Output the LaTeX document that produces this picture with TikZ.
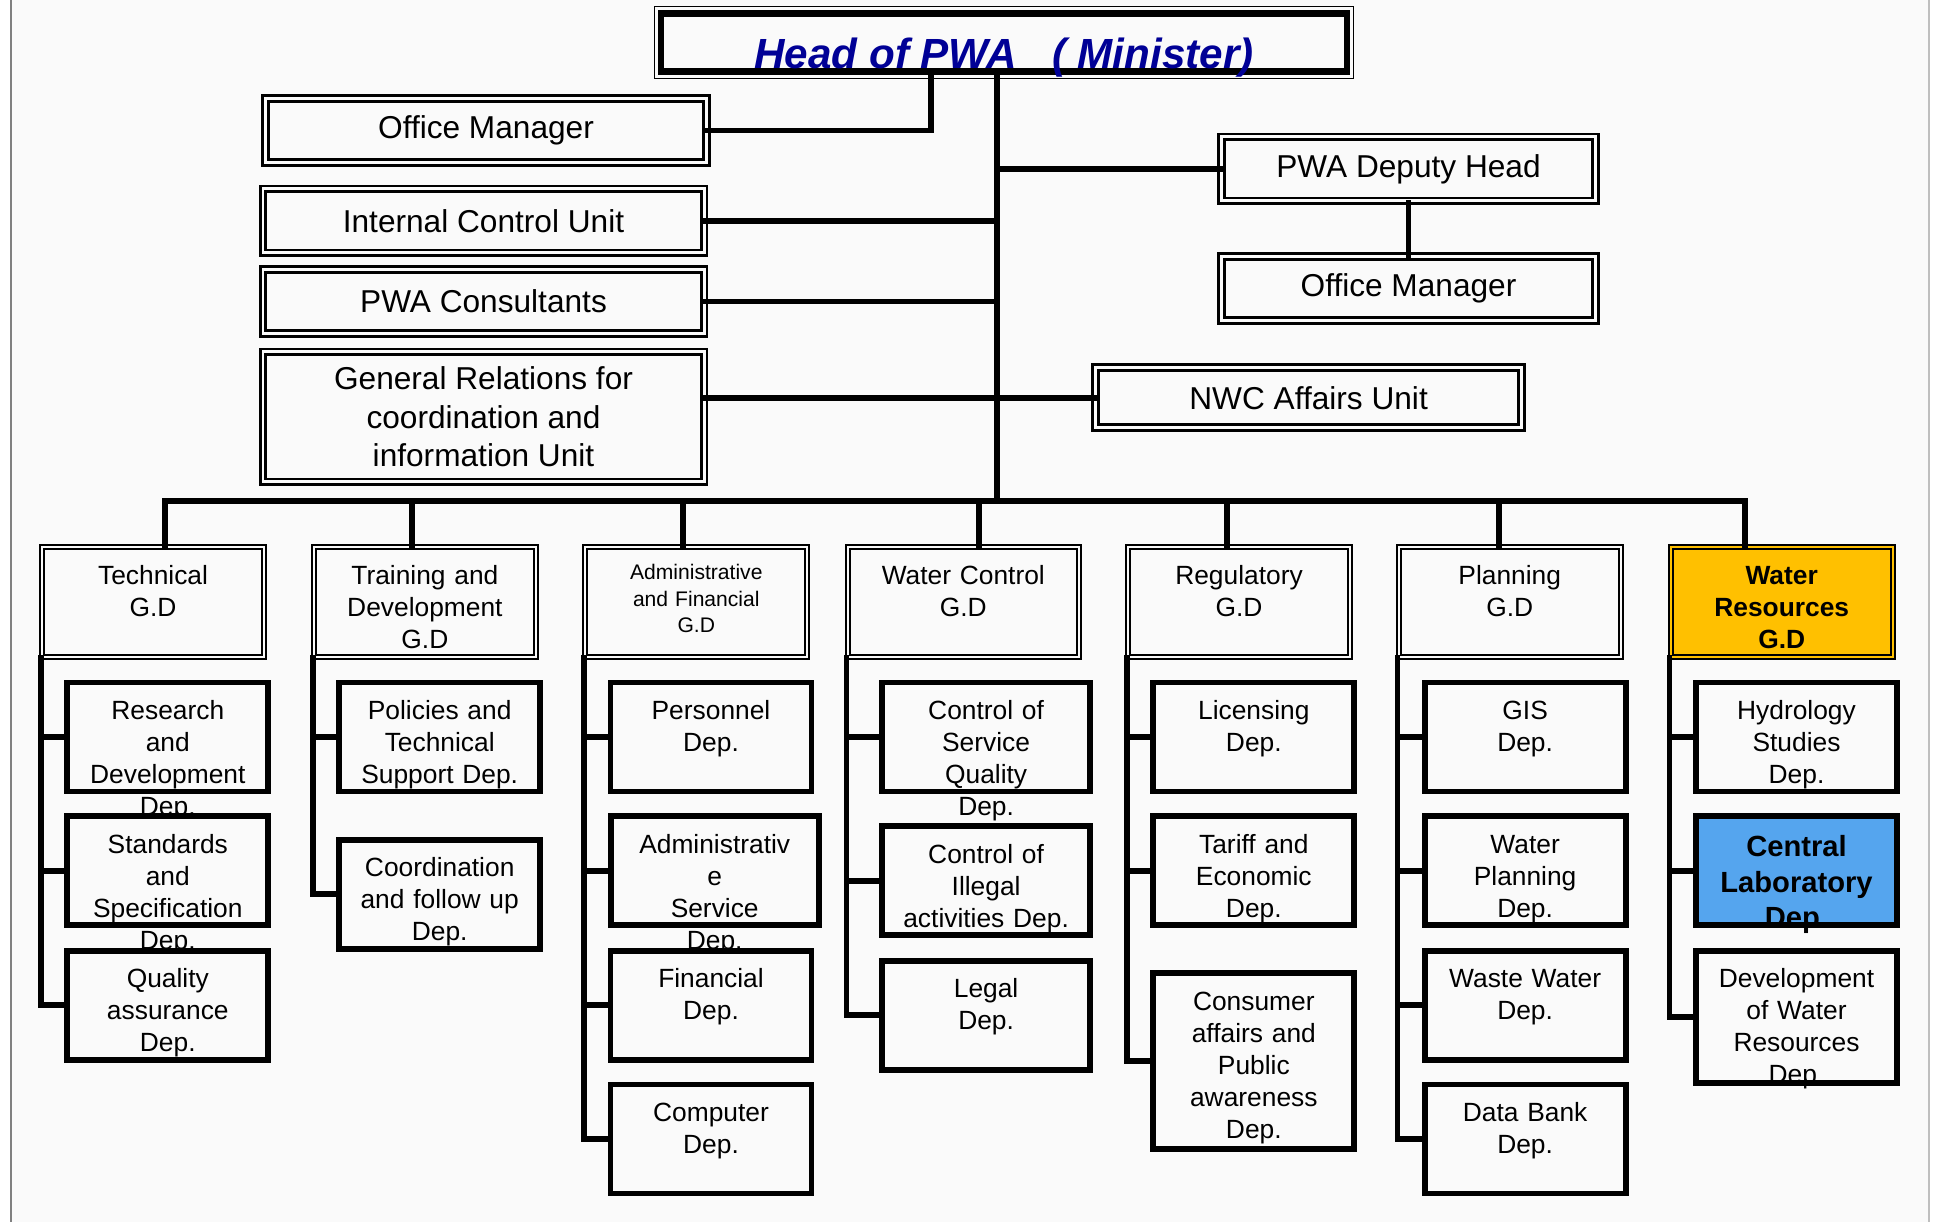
\documentclass[tikz,border=0pt]{standalone}
\usepackage{fontspec}
\setmainfont{Liberation Sans}
\usetikzlibrary{positioning}
\definecolor{headblue}{RGB}{0,0,150}
\definecolor{wrorange}{RGB}{255,192,0}
\definecolor{labblue}{RGB}{85,165,238}
\definecolor{paper}{RGB}{250,250,250}
\newcommand{\unitfont}{\fontsize{9}{11}\selectfont}
\newcommand{\depfont}{\fontsize{7.5}{9.1}\selectfont}

\begin{document}
\begin{tikzpicture}[link/.style={line width=1.6pt,line cap=rect},
top node/.style={draw,fill=paper,line width=1.8pt,minimum width=6.86cm,inner sep=0pt,text height=0.55cm,text depth=0.03cm,text=headblue,font=\fontsize{12}{14}\selectfont\bfseries\itshape,preaction={draw,line width=4.2pt},preaction={draw=paper,line width=3.5pt}},
unit node/.style={draw,double=paper,double distance=0.85pt,line width=0.85pt,fill=paper,minimum width=4.41cm,minimum height=0.64cm,inner sep=0pt,align=center,font=\unitfont},
gd node/.style={draw,double=paper,double distance=0.5pt,line width=0.65pt,fill=paper,text width=2.22cm,inner sep=0pt,align=center,text height=0.38cm,text depth=0.72cm,font=\depfont},
dep node/.style={draw,line width=1.7pt,fill=paper,text width=2.01cm,inner sep=0pt,align=center,text height=0.37cm,text depth=0.72cm,font=\depfont}]%page size
\useasboundingbox (0,0) rectangle (19.34,-12.22);
\fill[paper] (0.11,0) rectangle (19.29,-12.22);
\draw[gray,line width=0.3pt] (0.11,0) -- (0.11,-12.22);
\draw[gray!50,line width=0.3pt] (19.29,0) -- (19.29,-12.22);
\begin{scope}
\node[top node] (head) at (10.04,-0.425) {Head of PWA~~~( Minister)};
\node[unit node] (om1) at (4.86,-1.305) {Office Manager};
\node[unit node] (icu) at (4.835,-2.21) {Internal Control Unit};
\node[unit node] (cons) at (4.835,-3.015) {PWA Consultants};
\node[unit node,minimum height=1.30cm] (genrel) at (4.835,-4.17) {General Relations for\\coordination and\\information Unit};
\node[unit node,minimum width=3.74cm] (deputy) at (14.085,-1.69) {PWA Deputy Head};
\node[unit node,minimum width=3.74cm] (om2) at (14.085,-2.886) {Office Manager};
\node[unit node,minimum width=4.26cm,minimum height=0.6cm] (nwc) at (13.086,-3.978) {NWC Affairs Unit};
\end{scope}
\begin{scope}
\node[gd node] (tech) at (1.53,-6.02) {Technical\\G.D};
\node[gd node] (train) at (4.249,-6.02) {Training and\\Development\\G.D};
\node[gd node,font=\fontsize{6}{7.4}\selectfont,text height=0.33cm,text depth=0.77cm] (admin) at (6.963,-6.02) {Administrative\\and Financial\\G.D};
\node[gd node,text width=2.31cm] (wctrl) at (9.633,-6.02) {Water Control\\G.D};
\node[gd node] (reg) at (12.39,-6.02) {Regulatory\\G.D};
\node[gd node] (plan) at (15.097,-6.02) {Planning\\G.D};
\node[gd node,fill=wrorange,double=wrorange,font=\depfont\bfseries] (wres) at (17.817,-6.02) {Water\\Resources\\G.D};
\end{scope}
\begin{scope}
\node[dep node] (research) at (1.678,-7.37) {Research\\and\\Development\\Dep.};
\node[dep node] (standards) at (1.678,-8.708) {Standards\\and\\Specification\\Dep.};
\node[dep node] (quality) at (1.678,-10.053) {Quality\\assurance\\Dep.};
\node[dep node] (policies) at (4.397,-7.37) {Policies and\\Technical\\Support Dep.};
\node[dep node] (coord) at (4.397,-8.942) {Coordination\\and follow up\\Dep.};
\node[dep node] (personnel) at (7.11,-7.37) {Personnel\\Dep.};
\node[dep node,text width=2.08cm] (adminsrv) at (7.147,-8.708) {Administrativ\\e\\Service\\Dep.};
\node[dep node] (financial) at (7.11,-10.053) {Financial\\Dep.};
\node[dep node] (computer) at (7.11,-11.39) {Computer\\Dep.};
\node[dep node,text width=2.08cm] (servq) at (9.861,-7.37) {Control of\\Service\\Quality\\Dep.};
\node[dep node,text width=2.08cm] (illegal) at (9.861,-8.807) {Control of\\Illegal\\activities Dep.};
\node[dep node,text width=2.08cm] (legal) at (9.861,-10.151) {Legal\\Dep.};
\node[dep node] (licensing) at (12.538,-7.37) {Licensing\\Dep.};
\node[dep node] (tariff) at (12.538,-8.708) {Tariff and\\Economic\\Dep.};
\node[dep node,text depth=1.393cm] (consumer) at (12.538,-10.613) {Consumer\\affairs and\\Public\\awareness\\Dep.};
\node[dep node] (gis) at (15.251,-7.37) {GIS\\Dep.};
\node[dep node] (wplan) at (15.251,-8.708) {Water\\Planning\\Dep.};
\node[dep node] (wwater) at (15.251,-10.053) {Waste Water\\Dep.};
\node[dep node] (databank) at (15.251,-11.39) {Data Bank\\Dep.};
\node[dep node] (hydro) at (17.965,-7.37) {Hydrology\\Studies\\Dep.};
\node[dep node,fill=labblue,font=\fontsize{8.3}{10.2}\selectfont\bfseries,text height=0.40cm,text depth=0.69cm] (lab) at (17.965,-8.708) {Central\\Laboratory\\Dep.};
\node[dep node,text depth=0.95cm] (devwr) at (17.965,-10.17) {Development\\of Water\\Resources\\Dep.};
\end{scope}
\begin{scope}[link]
\coordinate (trunk) at (9.97,-5.01);
\draw (head.south -| trunk) -- (trunk);
\draw (om1.east) -| ([xshift=-0.73cm]head.south);
\draw (icu.east) -- (icu.east -| trunk);
\draw (cons.east) -- (cons.east -| trunk);
\draw (genrel.east |- nwc.west) -- (nwc.west);
\draw (deputy.west -| trunk) -- (deputy.west);
\draw (deputy) -- (om2);
\foreach \g/\x [count=\i] in {tech/1.65,train/4.12,admin/6.83,wctrl/9.79,reg/12.27,plan/14.99,wres/17.45}{
  \coordinate (bus\i) at (\x,-5.01);
  \draw (bus\i) -- (bus\i |- \g.north);
}
\draw[line width=1.9pt] (bus1) -- (bus7);
\foreach \g/\d in {tech/research,tech/standards,tech/quality,train/policies,train/coord,
  admin/personnel,admin/adminsrv,admin/financial,admin/computer,wctrl/servq,wctrl/illegal,wctrl/legal,
  reg/licensing,reg/tariff,reg/consumer,plan/gis,plan/wplan,plan/wwater,plan/databank,
  wres/hydro,wres/lab,wres/devwr}
  \draw (\g.south west) |- (\d.west);
\end{scope}
\end{tikzpicture}
\end{document}
